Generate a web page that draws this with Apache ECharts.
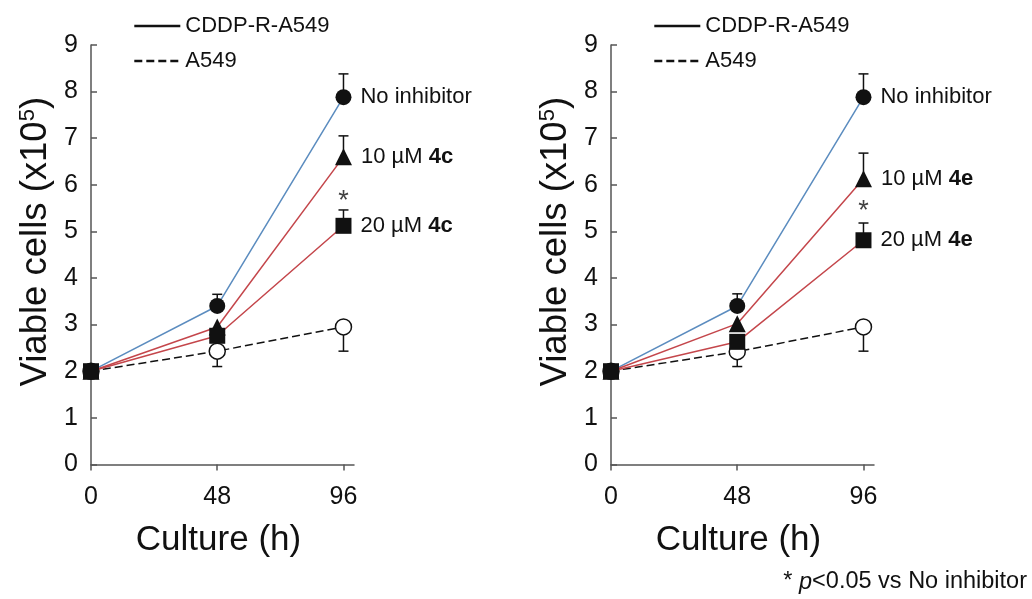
<!DOCTYPE html>
<html><head><meta charset="utf-8">
<script src="https://cdn.jsdelivr.net/npm/echarts@6/dist/echarts.min.js"></script>
<style>html,body{margin:0;padding:0;background:#fff}#c{width:1032px;height:599px}</style>
</head><body><div id="c"></div>
<script>
const FONT = '"Liberation Sans", Arial, sans-serif';
const hours = [0, 48, 96];
const xTicks = [0, 48, 96];
const legendNames = ['CDDP-R-A549', 'A549'];
const compounds = ['4c', '4e'];

// Left panel (4c)
const left_noInhibitor = [2.0, 3.40, 7.88];
const left_10uM = [2.0, 2.95, 6.60];
const left_20uM = [2.0, 2.76, 5.12];
const left_A549 = [2.0, 2.43, 2.95];
const left_noInhibitorErrTop = [null, 3.65, 8.38];
const left_10uMErrTop = [null, null, 7.05];
const left_20uMErrTop = [null, null, 5.46];
const left_A549ErrBottom = [null, 2.10, 2.43];
const left_asteriskY = 5.64;

// Right panel (4e)
const right_noInhibitor = [2.0, 3.40, 7.88];
const right_10uM = [2.0, 3.02, 6.13];
const right_20uM = [2.0, 2.63, 4.81];
const right_A549 = [2.0, 2.42, 2.95];
const right_noInhibitorErrTop = [null, 3.66, 8.38];
const right_10uMErrTop = [null, null, 6.68];
const right_20uMErrTop = [null, null, 5.18];
const right_A549ErrBottom = [null, 2.10, 2.43];
const right_asteriskY = 5.43;

const BLUE = '#5b8cbf', RED = '#c4464b', BLACK = '#111';

function errData(vals, ends) {
  const out = [];
  for (let i = 0; i < hours.length; i++) if (ends[i] != null) out.push([hours[i], vals[i], ends[i]]);
  return out;
}
function renderErr(params, api) {
  const p0 = api.coord([api.value(0), api.value(1)]);
  const p1 = api.coord([api.value(0), api.value(2)]);
  const hw = 5;
  return { type: 'group', children: [
    { type: 'line', shape: { x1: p0[0], y1: p0[1], x2: p1[0], y2: p1[1] }, style: { stroke: BLACK, lineWidth: 1.5 } },
    { type: 'line', shape: { x1: p1[0] - hw, y1: p1[1], x2: p1[0] + hw, y2: p1[1] }, style: { stroke: BLACK, lineWidth: 1.5 } }
  ]};
}
function errSeries(gi, vals, ends) {
  return { type: 'custom', xAxisIndex: gi, yAxisIndex: gi, renderItem: renderErr, data: errData(vals, ends), z: 1, silent: true, clip: false };
}
const labelRich = {
  n: { fontFamily: FONT, fontSize: 22, color: BLACK },
  b: { fontFamily: FONT, fontSize: 22, color: BLACK, fontWeight: 'bold' }
};
function lineSeries(name, gi, vals, color, symbol, size, labelText, opts) {
  opts = opts || {};
  const data = vals.map((v, i) => {
    const item = { value: [hours[i], v] };
    if (labelText && i === vals.length - 1) {
      item.label = { show: true, position: 'right', distance: 9, formatter: labelText, rich: labelRich };
    }
    return item;
  });
  return {
    type: 'line', name: name, xAxisIndex: gi, yAxisIndex: gi, data: data,
    symbol: symbol, symbolSize: size, clip: false, z: opts.z || 3,
    lineStyle: { color: color, width: 1.5, type: opts.dashed ? [8, 4] : 'solid' },
    itemStyle: opts.itemStyle || { color: BLACK, borderColor: BLACK, borderWidth: 0 },
    emphasis: { disabled: true },
    animation: false
  };
}
function panelSeries(gi, noInh, c10, c20, a549, eNo, e10, e20, eA, astY, cmp) {
  return [
    errSeries(gi, noInh, eNo), errSeries(gi, c10, e10), errSeries(gi, c20, e20), errSeries(gi, a549, eA),
    lineSeries('A549', gi, a549, BLACK, 'circle', 16, null, { dashed: true, itemStyle: { color: '#fff', borderColor: BLACK, borderWidth: 1.5 } }),
    lineSeries('No inhibitor', gi, noInh, BLUE, 'circle', 16, '{n|No inhibitor}'),
    lineSeries('10 µM ' + cmp, gi, c10, RED, 'triangle', 17, '{n|10 µM }{b|' + cmp + '}'),
    lineSeries('20 µM ' + cmp, gi, c20, RED, 'rect', 16, '{n|20 µM }{b|' + cmp + '}', { z: 4 }),
    { type: 'scatter', xAxisIndex: gi, yAxisIndex: gi, data: [[hours[2], astY]], symbolSize: 1, z: 5,
      itemStyle: { color: 'rgba(0,0,0,0)' }, silent: true,
      label: { show: true, position: 'inside', formatter: '*', fontFamily: FONT, fontSize: 27, color: BLACK } }
  ];
}

const grids = [
  { left: 91, top: 45, width: 263, height: 419.4, outerBoundsMode: 'none' },
  { left: 611, top: 45, width: 263, height: 419.4, outerBoundsMode: 'none' }
];
function xAxis(gi) {
  return {
    type: 'value', gridIndex: gi, min: 0, max: 100, interval: 48,
    name: 'Culture (h)', nameLocation: 'middle', nameGap: 58,
    nameTextStyle: { fontFamily: FONT, fontSize: 35, color: BLACK, padding: [0, 8, 0, 0] },
    axisLine: { lineStyle: { color: '#555', width: 1.5 } },
    axisTick: { show: true, inside: false, length: 6, customValues: xTicks, lineStyle: { color: '#555', width: 1.5 } },
    axisLabel: { customValues: xTicks, margin: 20, fontFamily: FONT, fontSize: 25, color: BLACK },
    splitLine: { show: false }
  };
}
function yAxis(gi) {
  return {
    type: 'value', gridIndex: gi, min: 0, max: 9, interval: 1,
    name: '{a|Viable cells (x10}{s|5}{a|)}', nameLocation: 'middle', nameGap: 37,
    nameTextStyle: { padding: [0, 0, 0, 26], rich: {
      a: { fontFamily: FONT, fontSize: 36.5, color: BLACK },
      s: { fontFamily: FONT, fontSize: 22, color: BLACK, verticalAlign: 'bottom', padding: [0, 0, 15, 0] }
    } },
    axisLine: { show: true, lineStyle: { color: '#555', width: 1.5 } },
    axisTick: { show: true, inside: true, length: 6, lineStyle: { color: '#555', width: 1.5 } },
    axisLabel: { margin: 13, fontFamily: FONT, fontSize: 25, color: BLACK },
    splitLine: { show: false }
  };
}
function legend(left) {
  return {
    left: left, top: 10, orient: 'vertical', itemWidth: 46, itemHeight: 20, itemGap: 13,
    selectedMode: false, data: legendNames,
    textStyle: { fontFamily: FONT, fontSize: 22, color: BLACK },
    itemStyle: { color: 'rgba(0,0,0,0)', borderColor: 'rgba(0,0,0,0)', borderWidth: 0 },
    lineStyle: { width: 2.6, color: BLACK }
  };
}

const series = [].concat(
  [{ type: 'line', name: 'CDDP-R-A549', xAxisIndex: 0, yAxisIndex: 0, data: [], symbol: 'none',
     lineStyle: { color: BLACK, width: 1.5 }, itemStyle: { color: BLACK } }],
  panelSeries(0, left_noInhibitor, left_10uM, left_20uM, left_A549,
    left_noInhibitorErrTop, left_10uMErrTop, left_20uMErrTop, left_A549ErrBottom, left_asteriskY, compounds[0]),
  panelSeries(1, right_noInhibitor, right_10uM, right_20uM, right_A549,
    right_noInhibitorErrTop, right_10uMErrTop, right_20uMErrTop, right_A549ErrBottom, right_asteriskY, compounds[1])
);

const chart = echarts.init(document.getElementById('c'), null, { renderer: 'canvas' });
chart.setOption({
  backgroundColor: '#fff',
  animation: false,
  grid: grids,
  xAxis: [xAxis(0), xAxis(1)],
  yAxis: [yAxis(0), yAxis(1)],
  legend: [legend(128), legend(648)],
  series: series,
  graphic: [{
    type: 'text', right: 5, top: 570, silent: true,
    style: {
      text: '{a|* }{i|p}{a|<0.05 vs No inhibitor}',
      rich: {
        a: { fontFamily: FONT, fontSize: 23.5, fill: BLACK },
        i: { fontFamily: FONT, fontSize: 23.5, fill: BLACK, fontStyle: 'italic' }
      }
    }
  }]
});
</script></body></html>
